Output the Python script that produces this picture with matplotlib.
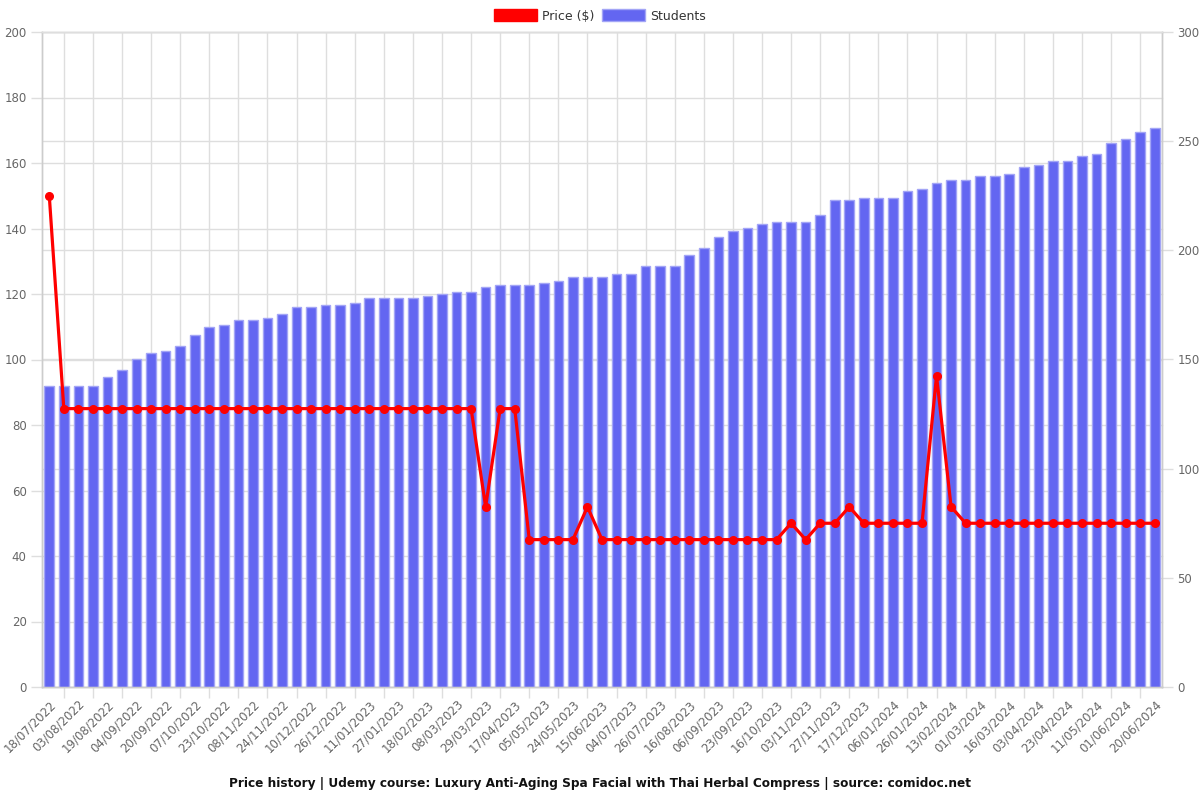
import numpy as np
import matplotlib
matplotlib.use("Agg")
import matplotlib.pyplot as plt
from matplotlib.patches import Patch
import matplotlib.transforms as mtransforms

# ---------------- data ----------------
tick_labels = [
    "18/07/2022", "03/08/2022", "19/08/2022", "04/09/2022", "20/09/2022",
    "07/10/2022", "23/10/2022", "08/11/2022", "24/11/2022", "10/12/2022",
    "26/12/2022", "11/01/2023", "27/01/2023", "18/02/2023", "08/03/2023",
    "29/03/2023", "17/04/2023", "05/05/2023", "24/05/2023", "15/06/2023",
    "04/07/2023", "26/07/2023", "16/08/2023", "06/09/2023", "23/09/2023",
    "16/10/2023", "03/11/2023", "27/11/2023", "17/12/2023", "06/01/2024",
    "26/01/2024", "13/02/2024", "01/03/2024", "16/03/2024", "03/04/2024",
    "23/04/2024", "11/05/2024", "01/06/2024", "20/06/2024",
]

students = [
    138, 138, 138, 138, 142, 145, 150, 153, 154, 156,
    161, 165, 166, 168, 168, 169, 171, 174, 174, 175,
    175, 176, 178, 178, 178, 178, 179, 180, 181, 181,
    183, 184, 184, 184, 185, 186, 188, 188, 188, 189,
    189, 193, 193, 193, 198, 201, 206, 209, 210, 212,
    213, 213, 213, 216, 223, 223, 224, 224, 224, 227,
    228, 231, 232, 232, 234, 234, 235, 238, 239, 241,
    241, 243, 244, 249, 251, 254, 256,
]

price = [
    150, 85, 85, 85, 85, 85, 85, 85, 85, 85,
    85, 85, 85, 85, 85, 85, 85, 85, 85, 85,
    85, 85, 85, 85, 85, 85, 85, 85, 85, 85,
    55, 85, 85, 45, 45, 45, 45, 55, 45, 45,
    45, 45, 45, 45, 45, 45, 45, 45, 45, 45,
    45, 50, 45, 50, 50, 55, 50, 50, 50, 50,
    50, 95, 55, 50, 50, 50, 50, 50, 50, 50,
    50, 50, 50, 50, 50, 50, 50,
]

price_ticks = [0, 20, 40, 60, 80, 100, 120, 140, 160, 180, 200]
student_ticks = [0, 50, 100, 150, 200, 250, 300]

title = ("Price history | Udemy course: Luxury Anti-Aging Spa Facial with "
         "Thai Herbal Compress | source: comidoc.net")

# ---------------- style ----------------
BAR_COLOR = "#6366f1"
BAR_EDGE = "#a3a5f6"
LINE_COLOR = "#ff0000"
GRID = "#dedede"
SPINE = "#cccccc"
TXT = "#666666"
FS = 8.5
LABEL_NUDGE = 0.3   # small visual nudge of rotated labels (category units)

plt.rcParams["font.family"] = ["DejaVu Sans"]

fig = plt.figure(figsize=(12, 8), dpi=100)
ax = fig.add_axes([42 / 1200, 1 - 687 / 800, 1120 / 1200, 655 / 800])
ax2 = ax.twinx()

n = len(students)
x = np.arange(n)

# bars (students) on ax, right-side scale
ax.bar(x, students, width=0.66, color=BAR_COLOR, edgecolor=BAR_EDGE,
       linewidth=1.0, zorder=3)
ax.set_ylim(0, 300)
ax.set_xlim(-0.5, n - 0.5)
ax.yaxis.tick_right()
ax.set_yticks(student_ticks)
ax.tick_params(axis="y", colors=GRID, labelcolor=TXT, labelsize=FS,
               length=8, width=1, pad=3)
ax.yaxis.grid(True, color=GRID, linewidth=1, zorder=0)

# x ticks: labels at every second category, grid lines between them
ax.set_xticks(x[::2] + LABEL_NUDGE)
ax.set_xticklabels(tick_labels, rotation=45, ha="right", va="center",
                   rotation_mode="anchor", fontsize=FS, color=TXT)
ax.set_xticks(x[1::2], minor=True)
ax.tick_params(axis="x", which="major", length=0, pad=11)
ax.tick_params(axis="x", which="minor", length=8, width=1, color=GRID)
ax.xaxis.grid(True, which="minor", color=GRID, linewidth=1, zorder=0)
ax.set_axisbelow(True)

# price line on ax2, left-side scale
ax2.plot(x, price, color=LINE_COLOR, linewidth=2.3, marker="o",
         markersize=5.5, zorder=5)
ax2.set_ylim(0, 200)
ax2.yaxis.tick_left()
ax2.set_yticks(price_ticks)
ax2.tick_params(axis="y", colors=GRID, labelcolor=TXT, labelsize=FS,
                length=8, width=1, pad=3)

# price grid lines drawn behind the bars (inside ax, in ax2 data coords)
blend = mtransforms.blended_transform_factory(ax.transAxes, ax2.transData)
for t in price_ticks:
    ax.plot([0, 1], [t, t], transform=blend, color=GRID, linewidth=1,
            zorder=0.5, clip_on=False)

for a in (ax, ax2):
    for s in a.spines.values():
        s.set_color(SPINE)
        s.set_linewidth(1)
    a.spines["top"].set_color(GRID)

# legend
handles = [
    Patch(facecolor=LINE_COLOR, edgecolor=LINE_COLOR, label="Price ($)"),
    Patch(facecolor=BAR_COLOR, edgecolor=BAR_EDGE, label="Students"),
]
fig.legend(handles=handles, loc="center", bbox_to_anchor=(0.5, 1 - 16 / 800),
           ncol=2, frameon=False, fontsize=9, handlelength=3.4,
           handleheight=1.1, handletextpad=0.45, columnspacing=0.6,
           labelcolor="#333333")

fig.text(0.5, 1 - 783 / 800, title, ha="center", va="center",
         fontsize=8.7, fontweight="bold", color="#111111")

fig.savefig("out.png", dpi=100)
